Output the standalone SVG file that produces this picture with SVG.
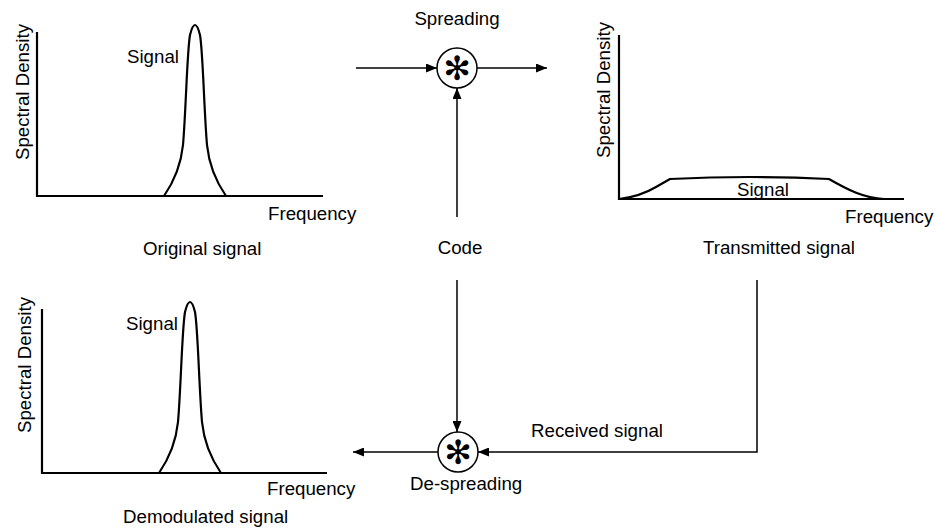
<svg xmlns="http://www.w3.org/2000/svg" xmlns:xlink="http://www.w3.org/1999/xlink" width="936" height="528" viewBox="0 0 936 528">
<style>
text{font-family:"Liberation Sans",Arial,sans-serif;font-size:18.7px;fill:#000}
.axis{fill:none;stroke:#000;stroke-width:2.2}
.curve{fill:none;stroke:#000;stroke-width:2.2;stroke-linejoin:round}
.conn{fill:none;stroke:#000;stroke-width:1.5}
.mix{fill:#fff;stroke:#000;stroke-width:1.5}
.star{font-family:"DejaVu Sans",sans-serif;font-size:33px}
</style>
<defs>
<marker id="ah" markerUnits="userSpaceOnUse" markerWidth="11" markerHeight="9" refX="11" refY="4.5" orient="auto"><path d="M0,0 L11,4.5 L0,9 z" fill="#000"/></marker>
<path id="peak" d="M164,196 C175,180 181,165 183,145 C186,110 187,52 190,35 Q195,15 200,35 C203,52 204,110 207,145 C209,165 215,180 226,196"/>
</defs>

<g id="original">
<path class="axis" d="M37,32 L37,196 L323,196"/>
<use href="#peak" xlink:href="#peak" class="curve"/>
<text x="127" y="63">Signal</text>
<text x="268" y="220">Frequency</text>
<text x="143" y="255">Original signal</text>
<text transform="translate(28.5,92) rotate(-90)" text-anchor="middle">Spectral Density</text>
</g>

<g id="transmitted">
<path class="axis" d="M619,35 L619,199 L904,199"/>
<path class="curve" d="M619,199 C636,197 646,193 656,187 L670,179 C720,176.5 780,176.5 829,179 C848,190 864,198 884,199"/>
<text x="737" y="196">Signal</text>
<text x="845" y="223">Frequency</text>
<text x="703" y="254">Transmitted signal</text>
<text transform="translate(610,90) rotate(-90)" text-anchor="middle">Spectral Density</text>
</g>

<g id="demodulated">
<path class="axis" d="M42,309 L42,473 L327,473"/>
<use href="#peak" xlink:href="#peak" class="curve" transform="translate(-5,277)"/>
<text x="126" y="330">Signal</text>
<text x="267" y="495">Frequency</text>
<text x="123" y="523">Demodulated signal</text>
<text transform="translate(30.5,365) rotate(-90)" text-anchor="middle">Spectral Density</text>
</g>

<g id="spreading">
<circle class="mix" cx="457" cy="68" r="20"/>
<text class="star" x="457" y="80.2" text-anchor="middle">✻</text>
<text x="457" y="25" text-anchor="middle">Spreading</text>
</g>

<g id="despreading">
<circle class="mix" cx="458" cy="452" r="20"/>
<text class="star" x="458" y="464.2" text-anchor="middle">✻</text>
<text x="410" y="490">De-spreading</text>
</g>

<g id="code">
<text x="460" y="254" text-anchor="middle">Code</text>
</g>

<g id="received">
<text x="531" y="437">Received signal</text>
</g>

<g id="connectors">
<path class="conn" d="M356,68 L437,68" marker-end="url(#ah)"/>
<path class="conn" d="M477,68 L547,68" marker-end="url(#ah)"/>
<path class="conn" d="M457,217 L457,88" marker-end="url(#ah)"/>
<path class="conn" d="M457,280 L457,432" marker-end="url(#ah)"/>
<path class="conn" d="M757,280 L757,452 L478,452" marker-end="url(#ah)"/>
<path class="conn" d="M438,452 L353,452" marker-end="url(#ah)"/>
</g>
</svg>
